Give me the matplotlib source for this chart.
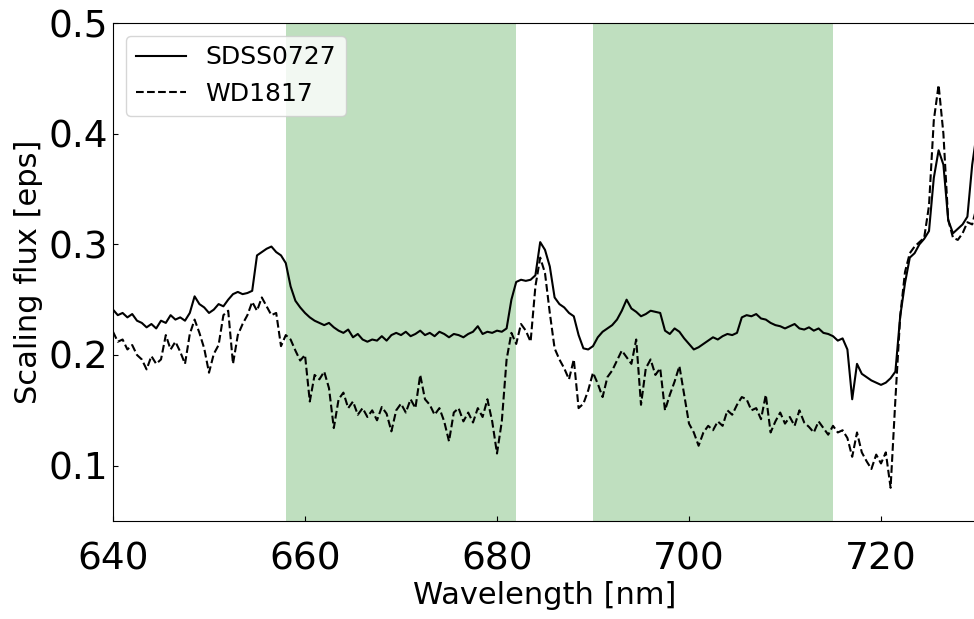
import matplotlib

matplotlib.use("Agg")
import matplotlib.pyplot as plt  # noqa: E402
import numpy as np  # noqa: E402

# wavelength grid, 0.5 nm steps from 640 to 730
wavelength = np.arange(640.0, 730.01, 0.5)

sdss0727 = [
    0.241, 0.236, 0.238, 0.234, 0.237, 0.231, 0.229, 0.225, 0.228, 0.224,
    0.231, 0.229, 0.236, 0.232, 0.234, 0.231, 0.238, 0.253, 0.246, 0.243,
    0.238, 0.241, 0.246, 0.244, 0.250, 0.255, 0.257, 0.255, 0.256, 0.258,
    0.290, 0.293, 0.296, 0.298, 0.293, 0.290, 0.283, 0.262, 0.249, 0.243,
    0.238, 0.234, 0.231, 0.229, 0.227, 0.229, 0.225, 0.222, 0.220, 0.223,
    0.216, 0.219, 0.214, 0.212, 0.214, 0.213, 0.217, 0.213, 0.218, 0.220,
    0.218, 0.221, 0.217, 0.219, 0.222, 0.218, 0.220, 0.217, 0.221, 0.219,
    0.216, 0.219, 0.218, 0.216, 0.219, 0.221, 0.226, 0.219, 0.221, 0.220,
    0.222, 0.221, 0.224, 0.250, 0.266, 0.268, 0.267, 0.268, 0.272, 0.302,
    0.295, 0.280, 0.252, 0.246, 0.243, 0.238, 0.235, 0.218, 0.206, 0.205,
    0.208, 0.216, 0.221, 0.224, 0.227, 0.232, 0.240, 0.250, 0.242, 0.239,
    0.235, 0.237, 0.240, 0.239, 0.238, 0.222, 0.219, 0.224, 0.221, 0.215,
    0.210, 0.205, 0.207, 0.210, 0.213, 0.216, 0.214, 0.217, 0.219, 0.218,
    0.220, 0.234, 0.236, 0.235, 0.237, 0.233, 0.232, 0.229, 0.227, 0.226,
    0.224, 0.226, 0.228, 0.224, 0.223, 0.225, 0.222, 0.224, 0.220, 0.219,
    0.217, 0.213, 0.215, 0.205, 0.160, 0.192, 0.183, 0.180, 0.177, 0.175,
    0.173, 0.175, 0.179, 0.185, 0.235, 0.265, 0.288, 0.292, 0.300, 0.305,
    0.312, 0.360, 0.385, 0.372, 0.322, 0.310, 0.314, 0.318, 0.325, 0.372,
    0.402,
]

wd1817 = [
    0.221, 0.212, 0.214, 0.205, 0.209, 0.200, 0.196, 0.187, 0.199, 0.192,
    0.196, 0.218, 0.205, 0.212, 0.203, 0.192, 0.219, 0.232, 0.220, 0.206,
    0.184, 0.201, 0.209, 0.236, 0.240, 0.192, 0.218, 0.228, 0.236, 0.248,
    0.240, 0.252, 0.244, 0.236, 0.238, 0.208, 0.218, 0.214, 0.204, 0.195,
    0.200, 0.158, 0.182, 0.178, 0.185, 0.170, 0.134, 0.160, 0.166, 0.152,
    0.158, 0.146, 0.152, 0.144, 0.150, 0.141, 0.153, 0.147, 0.131, 0.150,
    0.156, 0.148, 0.160, 0.152, 0.182, 0.160, 0.155, 0.146, 0.152, 0.140,
    0.122, 0.148, 0.152, 0.140, 0.148, 0.139, 0.152, 0.144, 0.160, 0.140,
    0.111, 0.140, 0.196, 0.220, 0.210, 0.228, 0.222, 0.212, 0.262, 0.288,
    0.274, 0.238, 0.206, 0.196, 0.188, 0.178, 0.196, 0.152, 0.156, 0.168,
    0.184, 0.174, 0.162, 0.180, 0.186, 0.195, 0.204, 0.198, 0.192, 0.214,
    0.155, 0.188, 0.196, 0.182, 0.188, 0.150, 0.164, 0.176, 0.190, 0.164,
    0.138, 0.130, 0.118, 0.130, 0.136, 0.132, 0.140, 0.136, 0.150, 0.146,
    0.155, 0.162, 0.160, 0.150, 0.152, 0.142, 0.164, 0.130, 0.140, 0.148,
    0.138, 0.144, 0.136, 0.150, 0.139, 0.135, 0.130, 0.140, 0.134, 0.128,
    0.136, 0.130, 0.132, 0.125, 0.108, 0.130, 0.112, 0.104, 0.097, 0.110,
    0.102, 0.112, 0.080, 0.160, 0.235, 0.275, 0.292, 0.298, 0.302, 0.306,
    0.335, 0.412, 0.444, 0.400, 0.322, 0.306, 0.304, 0.310, 0.320, 0.318,
    0.335,
]

bands = [(658, 682), (690, 715)]

fig = plt.figure(figsize=(9.74, 6.19), dpi=100)
ax = fig.add_axes([113 / 974, 98 / 619, 864 / 974, 498 / 619])

for lo, hi in bands:
    ax.axvspan(lo, hi, color="green", alpha=0.25, lw=0)

ax.plot(wavelength, sdss0727, color="black", lw=1.5, label="SDSS0727")
ax.plot(wavelength, wd1817, color="black", lw=1.5, ls="--", label="WD1817")

ax.set_xlim(640, 730)
ax.set_ylim(0.05, 0.5)
ax.set_xticks([640, 660, 680, 700, 720])
ax.set_yticks([0.1, 0.2, 0.3, 0.4, 0.5])
ax.tick_params(direction="in", labelsize=27)
ax.tick_params(axis="x", pad=15)
ax.set_xlabel("Wavelength [nm]", fontsize=22, labelpad=2)
ax.set_ylabel("Scaling flux [eps]", fontsize=22)
ax.legend(loc="upper left", fontsize=18)

fig.savefig("out.png", dpi=100)
plt.close(fig)
